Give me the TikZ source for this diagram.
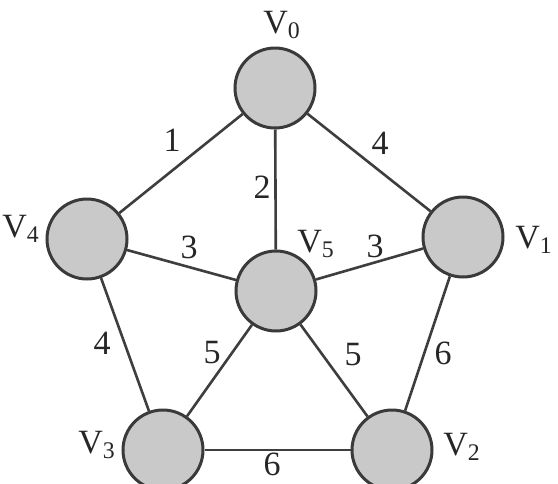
\documentclass[tikz,border=0pt]{standalone}
\usepackage{fontspec}
\setmainfont{Liberation Serif}

\definecolor{vfill}{RGB}{201,201,201}
\definecolor{vborder}{RGB}{58,58,58}
\definecolor{ecolor}{RGB}{62,62,62}

\tikzset{
  vertex/.style={circle, draw=vborder, fill=vfill, line width=1.5pt, minimum size=40pt, inner sep=0pt},
  vname/.style={anchor=base west, inner sep=0pt, text=black!85, font=\fontsize{17}{19}\selectfont},
  weight/.style={inner sep=0pt, text=black!85, font=\fontsize{17}{19}\selectfont},
  edge/.style={draw=ecolor, line width=1.3pt}
}

\begin{document}
\begin{tikzpicture}[x=0.5pt, y=-0.5pt]

\useasboundingbox (0,0) rectangle (558,483);
\clip (0,0) rectangle (558,483);

\node [vertex] (v0) at (275,88) {};
\node [vertex] (v1) at (463,237) {};
\node [vertex] (v2) at (392,450) {};
\node [vertex] (v3) at (163,450) {};
\node [vertex] (v4) at (87,239) {};
\node [vertex] (v5) at (276,291) {};

\node [vname] (v0_name) at (263,33) {V\textsubscript{0}};
\node [vname] (v1_name) at (515,248) {V\textsubscript{1}};
\node [vname] (v2_name) at (443,455) {V\textsubscript{2}};
\node [vname] (v3_name) at (78,453) {V\textsubscript{3}};
\node [vname] (v4_name) at (2,237) {V\textsubscript{4}};
\node [vname] (v5_name) at (297,252) {V\textsubscript{5}};

\draw [edge] (v0) -- (v4);
\draw [edge] (v0) -- (v5);
\draw [edge] (v0) -- (v1);
\draw [edge] (v4) -- (v5);
\draw [edge] (v5) -- (v1);
\draw [edge] (v4) -- (v3);
\draw [edge] (v5) -- (v3);
\draw [edge] (v5) -- (v2);
\draw [edge] (v1) -- (v2);
\draw [edge] (v3) -- (v2);

\node [weight] (w04) at (172,140) {1};
\node [weight] (w01) at (380,143) {4};
\node [weight] (w05) at (262,187) {2};
\node [weight] (w45) at (189,247) {3};
\node [weight] (w51) at (375,246) {3};
\node [weight] (w43) at (102,343) {4};
\node [weight] (w53) at (212,353) {5};
\node [weight] (w52) at (353,355) {5};
\node [weight] (w12) at (443,353) {6};
\node [weight] (w32) at (272,464) {6};

\end{tikzpicture}
\end{document}
